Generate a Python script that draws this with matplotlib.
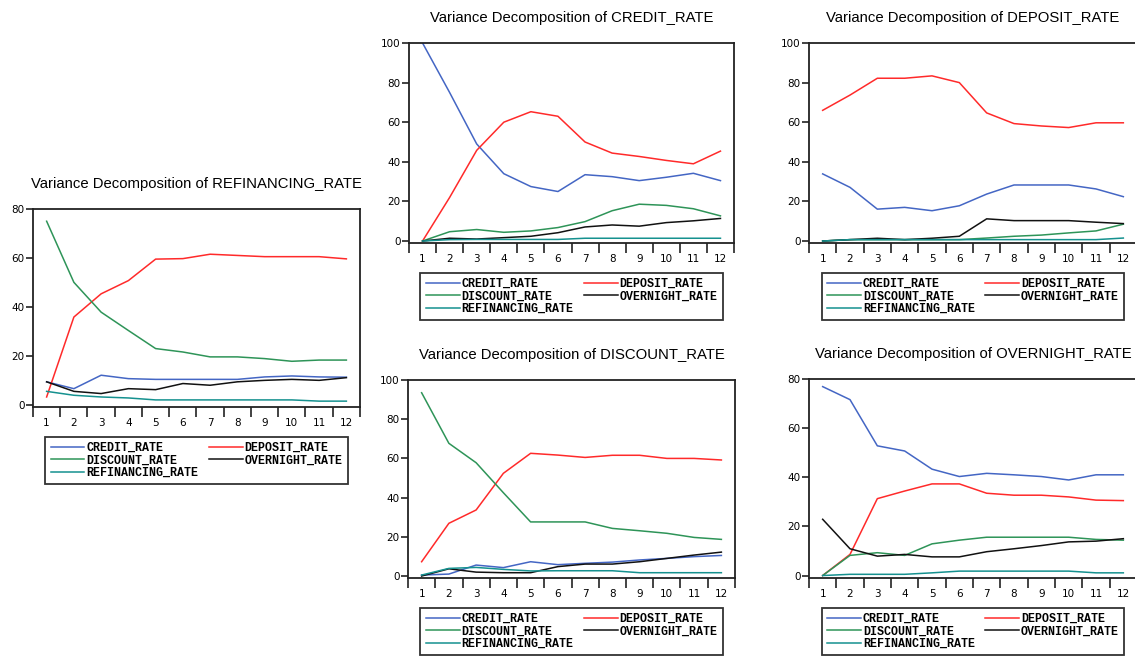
import numpy as np
import matplotlib
matplotlib.use('Agg')
import matplotlib.pyplot as plt

periods = list(range(1, 13))
names = ['CREDIT_RATE', 'DEPOSIT_RATE', 'DISCOUNT_RATE', 'OVERNIGHT_RATE', 'REFINANCING_RATE']
colors = ['#4466c4', '#ff2a2a', '#2e9458', '#111111', '#15918f']

# Variance decomposition of REFINANCING_RATE
refin_credit = [9.3, 6.5, 12.0, 10.6, 10.3, 10.3, 10.3, 10.3, 11.3, 11.7, 11.3, 11.2]
refin_deposit = [3.1, 35.8, 45.3, 50.7, 59.5, 59.7, 61.5, 61.0, 60.5, 60.5, 60.5, 59.6]
refin_discount = [75.0, 50.0, 37.8, 30.3, 22.9, 21.5, 19.5, 19.5, 18.8, 17.7, 18.2, 18.2]
refin_overnight = [9.3, 5.4, 4.5, 6.5, 6.1, 8.6, 7.9, 9.3, 9.9, 10.3, 9.9, 11.0]
refin_refin = [5.4, 3.8, 3.1, 2.7, 1.9, 1.9, 1.9, 1.9, 1.9, 1.9, 1.4, 1.4]

# Variance decomposition of CREDIT_RATE
credit_credit = [100.0, 75.0, 49.0, 34.0, 27.5, 25.0, 33.5, 32.5, 30.5, 32.2, 34.2, 30.5]
credit_deposit = [0.0, 22.0, 45.8, 60.0, 65.3, 63.0, 50.0, 44.4, 42.7, 40.7, 39.0, 45.4]
credit_discount = [0.0, 4.7, 5.8, 4.4, 5.1, 6.8, 9.8, 15.3, 18.6, 18.0, 16.3, 12.7]
credit_overnight = [0.0, 1.4, 1.0, 1.7, 2.4, 4.2, 7.1, 8.1, 7.5, 9.3, 10.2, 11.4]
credit_refin = [0.0, 0.7, 0.8, 0.8, 0.8, 0.8, 1.4, 1.4, 1.4, 1.4, 1.4, 1.4]

# Variance decomposition of DEPOSIT_RATE
deposit_credit = [33.9, 27.1, 16.1, 17.0, 15.3, 17.8, 23.7, 28.3, 28.3, 28.3, 26.3, 22.4]
deposit_deposit = [66.0, 73.7, 82.2, 82.2, 83.4, 80.0, 64.7, 59.3, 58.1, 57.3, 59.7, 59.7]
deposit_discount = [0.0, 0.7, 0.7, 0.7, 0.7, 0.7, 1.5, 2.4, 3.0, 4.1, 5.1, 8.5]
deposit_overnight = [0.0, 0.7, 1.4, 0.7, 1.4, 2.4, 11.2, 10.3, 10.3, 10.3, 9.5, 8.8]
deposit_refin = [0.0, 0.7, 0.7, 0.7, 0.7, 0.7, 0.7, 0.7, 0.7, 0.7, 0.7, 1.5]

# Variance decomposition of DISCOUNT_RATE
discount_credit = [0.5, 1.0, 5.6, 4.3, 7.3, 5.8, 6.5, 7.1, 8.2, 9.0, 9.9, 10.5]
discount_deposit = [7.3, 26.9, 33.7, 52.4, 62.6, 61.7, 60.5, 61.6, 61.6, 60.0, 60.0, 59.2]
discount_discount = [93.5, 67.7, 57.8, 42.5, 27.6, 27.6, 27.6, 24.3, 23.1, 21.8, 19.7, 18.7]
discount_overnight = [0.0, 3.7, 2.0, 1.7, 1.7, 4.8, 6.1, 6.1, 7.3, 9.0, 10.7, 12.2]
discount_refin = [0.5, 3.9, 4.4, 3.4, 2.6, 2.7, 2.7, 2.7, 1.7, 1.7, 1.7, 1.7]

# Variance decomposition of OVERNIGHT_RATE
overnight_credit = [76.9, 71.6, 52.8, 50.7, 43.3, 40.3, 41.6, 41.0, 40.3, 38.9, 41.0, 41.0]
overnight_deposit = [0.0, 8.6, 31.3, 34.4, 37.3, 37.3, 33.5, 32.7, 32.7, 32.0, 30.7, 30.5]
overnight_discount = [0.0, 8.2, 9.3, 8.2, 12.9, 14.4, 15.6, 15.6, 15.6, 15.6, 14.7, 14.4]
overnight_overnight = [22.9, 10.9, 7.9, 8.6, 7.6, 7.6, 9.7, 10.9, 12.2, 13.7, 14.0, 15.0]
overnight_refin = [0.0, 0.5, 0.5, 0.5, 1.1, 1.8, 1.8, 1.8, 1.8, 1.8, 1.1, 1.1]

panels = [
    ('REFINANCING_RATE', [refin_credit, refin_deposit, refin_discount, refin_overnight, refin_refin], 80),
    ('CREDIT_RATE', [credit_credit, credit_deposit, credit_discount, credit_overnight, credit_refin], 100),
    ('DEPOSIT_RATE', [deposit_credit, deposit_deposit, deposit_discount, deposit_overnight, deposit_refin], 100),
    ('DISCOUNT_RATE', [discount_credit, discount_deposit, discount_discount, discount_overnight, discount_refin], 100),
    ('OVERNIGHT_RATE', [overnight_credit, overnight_deposit, overnight_discount, overnight_overnight, overnight_refin], 80),
]

W, H = 1135, 657
# axes boxes in pixels: left, top, right, bottom
boxes = [(33, 209, 360, 407), (409, 43, 734, 243), (809, 43, 1137, 243),
         (408, 380, 735, 578), (809, 379, 1137, 578)]

fig = plt.figure(figsize=(W / 100, H / 100), dpi=100)
fig.patch.set_facecolor('white')

for (target, series, ymax), (l, t, r, b) in zip(panels, boxes):
    ax = fig.add_axes([l / W, 1 - b / H, (r - l) / W, (b - t) / H])
    lines = []
    for vals, c in zip(series, colors):
        ln, = ax.plot(periods, vals, color=c, lw=1.1)
        lines.append(ln)
    ax.set_xlim(0.5, 12.5)
    ax.set_ylim(-1, ymax)
    ax.set_yticks(np.arange(0, ymax + 1, 20))
    ax.set_xticks(np.arange(0.5, 13, 1))
    ax.set_xticklabels([])
    ax.set_xticks(periods, minor=True)
    ax.set_xticklabels([str(p) for p in periods], minor=True)
    ax.tick_params(axis='x', which='major', direction='out', length=7, width=1.2, color='#222222')
    ax.tick_params(axis='x', which='minor', length=0, pad=8, labelsize=7.5)
    ax.tick_params(axis='y', direction='out', length=5, width=1.2, color='#222222', labelsize=7.5, pad=1)
    for s in ax.spines.values():
        s.set_linewidth(1.3)
        s.set_color('#222222')
    ax.annotate('Variance Decomposition of ' + target, xy=(0.5, 1), xycoords='axes fraction',
                xytext=(0, 18), textcoords='offset points', ha='center', va='center',
                fontsize=10.7, family='Liberation Sans')
    # legend filled column-wise: left column CREDIT, DISCOUNT, REFINANCING
    order = [0, 2, 4, 1, 3]
    leg = ax.legend([lines[i] for i in order], [names[i] for i in order], ncol=2,
                    loc='upper center', bbox_to_anchor=(0.5, -30 / (b - t)),
                    prop={'family': 'Liberation Mono', 'weight': 'bold', 'size': 8.4},
                    frameon=True, fancybox=False, edgecolor='black', handlelength=2.9,
                    handletextpad=0.15, columnspacing=0.9, labelspacing=0.02, borderpad=0.45,
                    borderaxespad=0)
    leg.get_frame().set_linewidth(1.3)

fig.savefig('out.png', dpi=100, facecolor='white')
